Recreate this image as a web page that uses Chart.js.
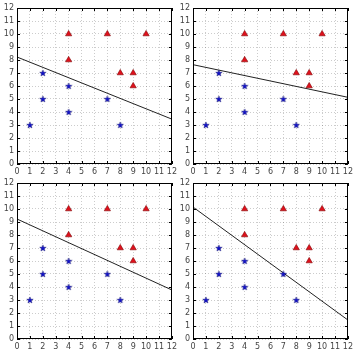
<!DOCTYPE html>
<html><head><meta charset="utf-8">
<script src="https://cdn.jsdelivr.net/npm/chart.js@4"></script>
<style>
html,body{margin:0;padding:0;background:#fff;width:361px;height:356px;overflow:hidden}
canvas{position:absolute}
</style></head><body>
<canvas id="c0" width="180" height="178" style="left:0;top:0"></canvas>
<canvas id="c1" width="180" height="178" style="left:176px;top:0"></canvas>
<canvas id="c2" width="180" height="178" style="left:0;top:175px"></canvas>
<canvas id="c3" width="180" height="178" style="left:176px;top:175px"></canvas>
<script>
// Data
const redX = [4, 7, 10, 4, 8, 9, 9];
const redY = [10, 10, 10, 8, 7, 7, 6];
const blueX = [2, 4, 2, 7, 4, 1, 8];
const blueY = [7, 6, 5, 5, 4, 3, 3];
const lineX = [0, 12];
const lineY1 = [8.23, 3.45];
const lineY2 = [7.64, 5.13];
const lineY3 = [9.23, 3.77];
const lineY4 = [10.15, 1.46];
const tickValues = [0,1,2,3,4,5,6,7,8,9,10,11,12];
const lines = [lineY1, lineY2, lineY3, lineY4];

function starImage(){
  const s = 8, c = document.createElement('canvas');
  c.width = s; c.height = s;
  const g = c.getContext('2d');
  const cx = s/2, cy = s/2+0.3, R = 3.4, r = 1.4;
  g.beginPath();
  for (let i=0;i<10;i++){
    const a = -Math.PI/2 + i*Math.PI/5;
    const rr = i%2===0 ? R : r;
    g.lineTo(cx + rr*Math.cos(a), cy + rr*Math.sin(a));
  }
  g.closePath();
  g.fillStyle = '#1010cc';
  g.fill();
  g.lineWidth = 0.4;
  g.strokeStyle = '#000060';
  g.stroke();
  return c;
}
const star = starImage();

const boxPlugin = {
  id: 'box',
  afterDraw(chart){
    const {ctx, chartArea:a, scales} = chart;
    ctx.save();
    ctx.strokeStyle = '#000';
    ctx.lineWidth = 1;
    ctx.beginPath();
    tickValues.forEach(v=>{
      const px = Math.round(scales.x.getPixelForValue(v))+0.5;
      const py = Math.round(scales.y.getPixelForValue(v))+0.5;
      ctx.moveTo(px, a.bottom); ctx.lineTo(px, a.bottom-3);
      ctx.moveTo(px, a.top); ctx.lineTo(px, a.top+3);
      ctx.moveTo(a.left, py); ctx.lineTo(a.left+3, py);
      ctx.moveTo(a.right, py); ctx.lineTo(a.right-3, py);
    });
    ctx.stroke();
    ctx.strokeRect(Math.round(a.left)+0.5, Math.round(a.top)+0.5, Math.round(a.right-a.left)-1, Math.round(a.bottom-a.top)-1);
    ctx.restore();
  }
};

function axis(pos){
  return {
    type:'linear', position:pos, min:0, max:12,
    afterBuildTicks(s){ s.ticks = tickValues.map(v=>({value:v})); },
    afterFit(s){ if(pos==='left') s.width = 17; else s.height = 14; },
    grid:{ color:'rgba(0,0,0,0.2)', drawTicks:false, lineWidth:1 },
    border:{ display:false, dash:[1,2] },
    ticks:{ padding:3, color:'#444', font:{family:'DejaVu Sans', size:8}, autoSkip:false, maxRotation:0 }
  };
}

for (let i=0;i<4;i++){
  const ly = lines[i];
  new Chart(document.getElementById('c'+i), {
    type:'scatter',
    data:{ datasets:[
      { data: lineX.map((x,k)=>({x, y:ly[k]})), showLine:true, borderColor:'#222', borderWidth:1, pointRadius:0, order:3 },
      { data: redX.map((x,k)=>({x, y:redY[k]})), pointStyle:'triangle', pointRadius:3.6, backgroundColor:'#e0101c', borderColor:'#800000', borderWidth:0.6, order:1 },
      { data: blueX.map((x,k)=>({x, y:blueY[k]})), pointStyle:star, pointRadius:3, backgroundColor:'#1010cc', borderColor:'#000060', borderWidth:0, order:2 }
    ]},
    options:{
      responsive:false, animation:false, events:[],
      layout:{ padding:{left:0, top:8, right:7, bottom:0} },
      plugins:{ legend:{display:false}, tooltip:{enabled:false} },
      scales:{ x: axis('bottom'), y: axis('left') }
    },
    plugins:[boxPlugin]
  });
}
</script>
</body></html>
